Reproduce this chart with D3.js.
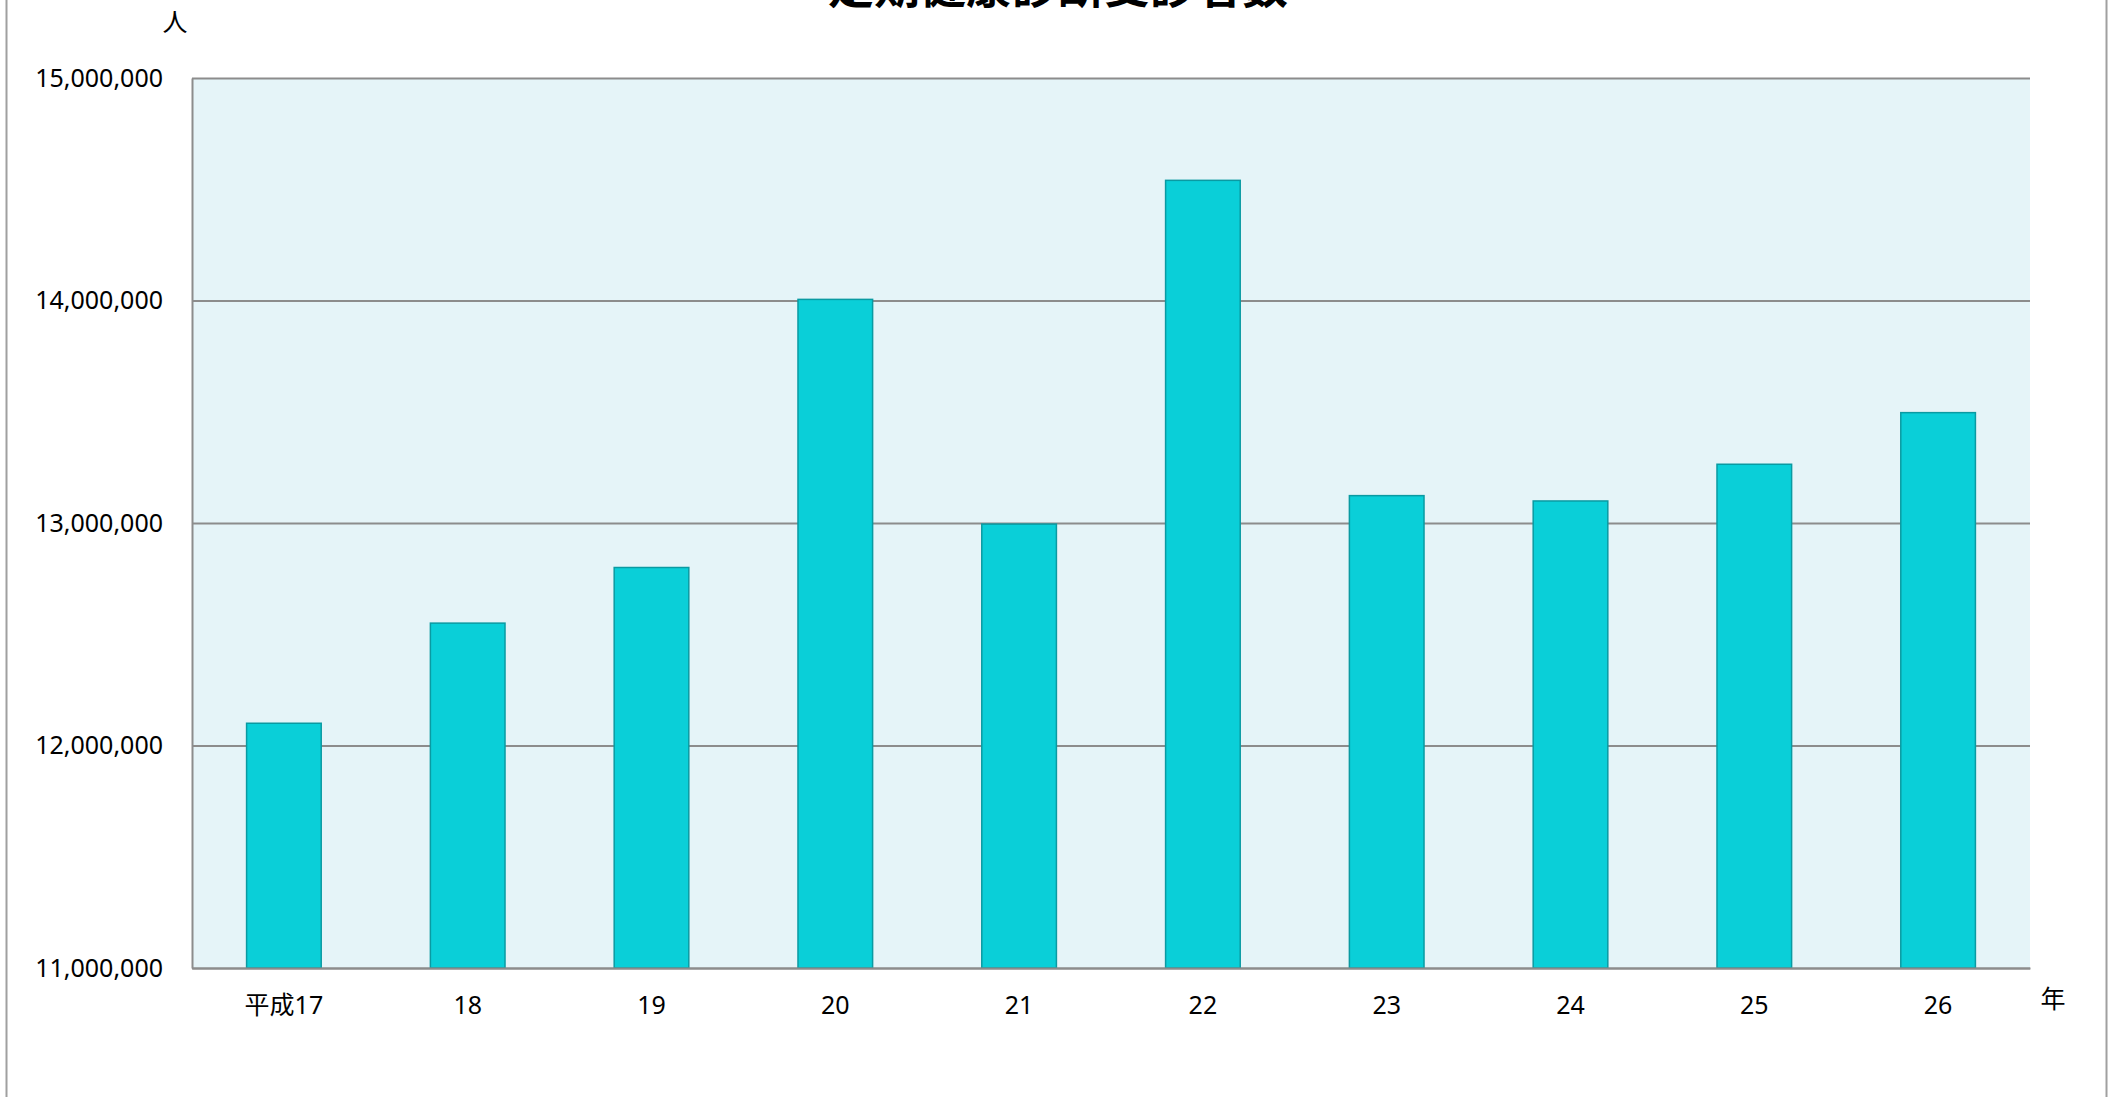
<!DOCTYPE html>
<html>
<head>
<meta charset="utf-8">
<script src="https://cdn.jsdelivr.net/npm/d3@7.9.0/dist/d3.min.js"></script>
<style>
  html, body { margin: 0; padding: 0; background: #fff; overflow: hidden; }
  svg { display: block; font-family: "Noto Sans", "Noto Sans CJK JP", sans-serif; }
</style>
</head>
<body>
<div id="chart"></div>
<script>
// Chart data
const years = ['平成17', '18', '19', '20', '21', '22', '23', '24', '25', '26'];
const examinees = [12100000, 12550000, 12800000, 14005000, 12995000, 14540000, 13123000, 13099000, 13264000, 13496000];
const yTicks = [11000000, 12000000, 13000000, 14000000, 15000000];
const title = '定期健康診断受診者数';
const yUnit = '人';
const xUnit = '年';

const width = 2118;
const height = 1097;
const plot = { left: 192, right: 2030, top: 78, bottom: 968 };
const labelSize = 25;

const svg = d3.select('#chart')
  .append('svg')
  .attr('width', width)
  .attr('height', height);

// Outer chart frame (only the sides are in view)
svg.append('rect')
  .attr('x', 6.5)
  .attr('y', -20)
  .attr('width', 2100)
  .attr('height', height + 40)
  .attr('fill', 'none')
  .attr('stroke', '#a0a0a0')
  .attr('stroke-width', 2);

const xScale = d3.scaleBand()
  .domain(years)
  .range([plot.left, plot.right])
  .paddingInner(0.594)
  .paddingOuter(0.297);

const yScale = d3.scaleLinear()
  .domain([11000000, 15000000])
  .range([plot.bottom, plot.top]);

// Plot background
svg.append('rect')
  .attr('x', plot.left)
  .attr('y', plot.top)
  .attr('width', plot.right - plot.left)
  .attr('height', plot.bottom - plot.top)
  .attr('fill', '#e5f4f8');

// Gridlines
const grid = svg.append('g')
  .attr('transform', `translate(${plot.left}, 0)`)
  .call(d3.axisLeft(yScale).tickValues(yTicks).tickFormat('').tickSize(-(plot.right - plot.left)));
grid.select('.domain').remove();
grid.selectAll('.tick line')
  .attr('stroke', '#8c8c8c')
  .attr('stroke-width', 1.8);

// Bars
svg.append('g')
  .selectAll('rect')
  .data(years)
  .join('rect')
  .attr('x', d => xScale(d))
  .attr('y', (d, i) => yScale(examinees[i]))
  .attr('width', xScale.bandwidth())
  .attr('height', (d, i) => plot.bottom - yScale(examinees[i]))
  .attr('fill', '#0acfd8')
  .attr('stroke', '#0a9aa2')
  .attr('stroke-width', 1.5);

// Y axis
const yAxis = svg.append('g')
  .attr('transform', `translate(${plot.left}, 0)`)
  .call(d3.axisLeft(yScale)
    .tickValues(yTicks)
    .tickSize(0)
    .tickPadding(29)
    .tickFormat(d3.format(',')));
yAxis.select('.domain').attr('stroke', '#8c8c8c').attr('stroke-width', 2);
yAxis.selectAll('text')
  .attr('font-size', labelSize)
  .attr('fill', '#000')
  .style('font-family', '"Noto Sans", "Noto Sans CJK JP", sans-serif');

// X axis
const xAxis = svg.append('g')
  .attr('transform', `translate(0, ${plot.bottom})`)
  .call(d3.axisBottom(xScale).tickSize(0).tickPadding(28));
xAxis.select('.domain').attr('stroke', '#8c8c8c').attr('stroke-width', 2);
xAxis.selectAll('text')
  .attr('font-size', labelSize)
  .attr('fill', '#000')
  .style('font-family', '"Noto Sans", "Noto Sans CJK JP", sans-serif');

// Unit labels
svg.append('text')
  .attr('x', 175)
  .attr('y', 31)
  .attr('text-anchor', 'middle')
  .attr('font-size', labelSize)
  .text(yUnit);

svg.append('text')
  .attr('x', 2053)
  .attr('y', 1008)
  .attr('text-anchor', 'middle')
  .attr('font-size', labelSize)
  .text(xUnit);

// Title (mostly cut off at the top edge, as in the reference)
svg.append('text')
  .attr('x', 1058)
  .attr('y', 3)
  .attr('text-anchor', 'middle')
  .attr('font-size', 46)
  .attr('font-weight', 'bold')
  .style('font-family', '"Noto Sans CJK JP", sans-serif')
  .text(title);
</script>
</body>
</html>
